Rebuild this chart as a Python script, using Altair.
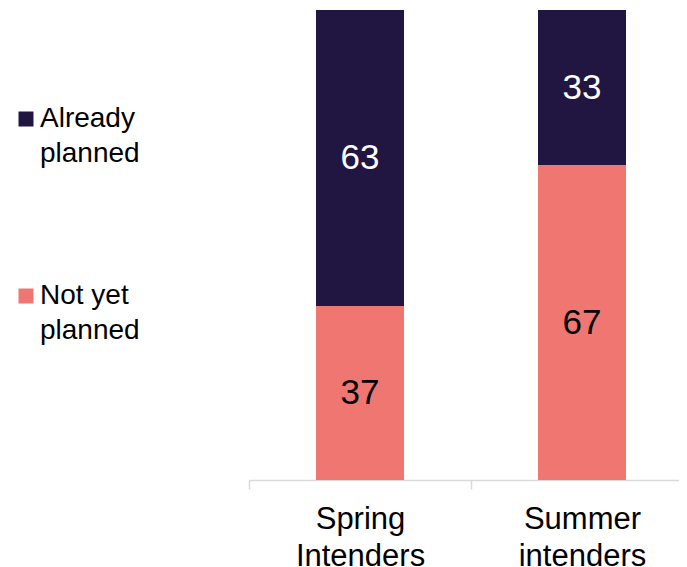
import altair as alt
import pandas as pd

groups = ["Spring Intenders", "Summer intenders"]
statuses = ["Already planned", "Not yet planned"]
already_planned = [63, 33]
not_yet_planned = [37, 67]

DARK = "#201641"
PINK = "#F07672"
FONT = "Liberation Sans"

rows = []
for i, g in enumerate(groups):
    rows.append({"group": g, "status": "Not yet planned", "value": not_yet_planned[i], "order": 0})
    rows.append({"group": g, "status": "Already planned", "value": already_planned[i], "order": 1})
df = pd.DataFrame(rows)

base = alt.Chart(df).transform_stack(
    stack="value", groupby=["group"], as_=["y0", "y1"], sort=[alt.SortField("order")]
).transform_calculate(mid="(datum.y0 + datum.y1) / 2")

x_enc = alt.X(
    "group:N",
    sort=groups,
    title=None,
    scale=alt.Scale(range=[0, 444], paddingInner=0, paddingOuter=0),
    axis=alt.Axis(
        labelAngle=0,
        labelExpr="split(datum.label, ' ')",
        labelFontSize=31,
        labelLineHeight=37,
        labelFont=FONT,
        labelColor="black",
        labelBaseline="top",
        labelPadding=15,
        tickBand="extent",
        tickSize=9,
        tickColor="#d9d9d9",
        domainColor="#d9d9d9",
        domainWidth=1.5,
        tickWidth=1.5,
        grid=False,
    ),
)

y_scale = alt.Scale(domain=[0, 100], nice=False, zero=True)

bars = base.mark_bar(size=88).encode(
    x=x_enc,
    y=alt.Y("y1:Q", scale=y_scale, axis=None),
    y2="y0:Q",
    color=alt.Color(
        "status:N",
        scale=alt.Scale(domain=statuses, range=[DARK, PINK]),
        legend=alt.Legend(
            title=None,
            orient="none",
            legendX=-237,
            legendY=95,
            symbolType="square",
            symbolSize=225,
            symbolStrokeWidth=0,
            labelFontSize=28,
            labelFont=FONT,
            labelColor="black",
            labelLimit=400,
            labelOffset=0,
            rowPadding=114,
            labelExpr="datum.label == 'Already planned' ? ['Already', 'planned'] : ['Not yet', 'planned']",
        ),
    ),
)

labels = base.mark_text(fontSize=35, font=FONT, baseline="middle").encode(
    x=alt.X("group:N", sort=groups),
    y=alt.Y("mid:Q", scale=y_scale),
    text="value:Q",
    color=alt.condition(alt.datum.status == "Already planned", alt.value("white"), alt.value("black")),
)

chart = alt.layer(bars, labels).properties(
    width=430,
    height=470,
    padding={"left": 241, "top": 2, "right": 0, "bottom": 87},
    autosize=alt.AutoSizeParams(type="none"),
).configure(
    style={"guide-label": {"lineHeight": 35}},
    view=alt.ViewConfig(strokeWidth=0),
)

chart.save("out.html", embed_options={"renderer": "svg", "actions": False})
